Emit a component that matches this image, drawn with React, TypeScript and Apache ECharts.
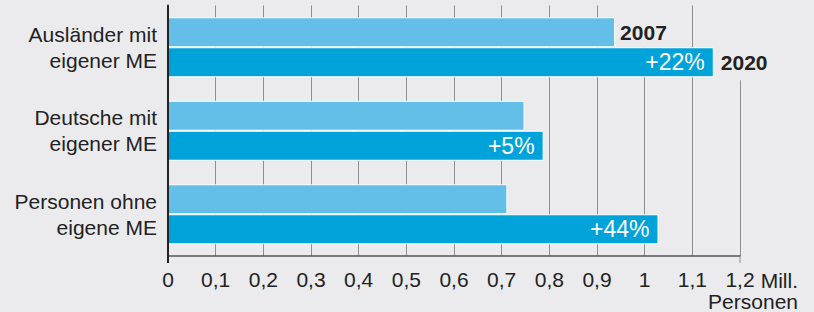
import React, { useEffect, useRef } from "react";
import * as echarts from "echarts";

const categories = ["Ausländer mit\neigener ME", "Deutsche mit\neigener ME", "Personen ohne\neigene ME"];
const seriesNames = ["2007", "2020"];
const values2007 = [0.938, 0.748, 0.712];
const values2020 = [1.145, 0.788, 1.029];
const changeLabels = ["+22%", "+5%", "+44%"];
const xMin = 0;
const xMax = 1.2;
const xInterval = 0.1;
const unitLine1 = "Mill.";
const unitLine2 = "Personen";

const BG = "#ebebee";
const C2007 = "#63bee8";
const C2020 = "#00a3d9";
const TEXT = "#222222";
const GRID = "#8e8e8e";
const FONT = "'Liberation Sans', Arial, Helvetica, sans-serif";
const BAR_W = 30;
const FS = 21;

export default function App() {
  const ref = useRef<HTMLDivElement>(null);
  useEffect(() => {
    if (!ref.current) return;
    const chart = echarts.init(ref.current, null, { renderer: "svg" });
    const option: any = {
      animation: false,
      backgroundColor: BG,
      textStyle: { fontFamily: FONT },
      grid: { left: 168, right: 74, top: 5.5, bottom: 56, containLabel: false },
      xAxis: {
        type: "value",
        min: xMin,
        max: xMax,
        interval: xInterval,
        axisLine: { show: true, lineStyle: { color: "#555", width: 1.5 } },
        axisTick: { show: false },
        splitLine: { show: true, lineStyle: { color: GRID, width: 1 } },
        axisLabel: {
          color: TEXT,
          fontSize: FS,
          fontFamily: FONT,
          margin: 13,
          formatter: (v: number) => String(Math.round(v * 10) / 10).replace(".", ","),
        },
      },
      yAxis: {
        type: "category",
        inverse: true,
        data: categories,
        z: 3,
        axisLine: { show: true, lineStyle: { color: TEXT, width: 2 } },
        axisTick: { show: false },
        splitLine: { show: false },
        axisLabel: {
          color: TEXT,
          fontSize: FS,
          fontFamily: FONT,
          lineHeight: 26,
          margin: 11,
          align: "right",
        },
      },
      series: [
        {
          name: seriesNames[0],
          type: "bar",
          barWidth: BAR_W,
          barGap: "0%",
          z: 2,
          itemStyle: { color: C2007, borderColor: "#ffffff", borderWidth: 1 },
          data: values2007.map((v, i) =>
            i === 0
              ? {
                  value: v,
                  label: {
                    show: true,
                    position: "right",
                    distance: 5,
                    formatter: seriesNames[0],
                    color: TEXT,
                    fontSize: FS,
                    fontWeight: "bold",
                    fontFamily: FONT,
                  },
                }
              : v
          ),
        },
        {
          name: seriesNames[1],
          type: "bar",
          barWidth: BAR_W,
          barGap: "0%",
          z: 2,
          itemStyle: { color: C2020, borderColor: "#ffffff", borderWidth: 1 },
          label: {
            show: true,
            position: "insideRight",
            distance: 9,
            color: "#ffffff",
            fontSize: 23,
            fontFamily: FONT,
            formatter: (p: any) => changeLabels[p.dataIndex],
          },
          data: values2020,
        },
      ],
    };
    chart.setOption(option);

    const px = (x: number, c: number) =>
      chart.convertToPixel({ xAxisIndex: 0, yAxisIndex: 0 }, [x, c]) as number[];
    const c0 = px(0, 0);
    const c1 = px(0, 1);
    const band = c1[1] - c0[1];
    const gridTop = c0[1] - band / 2;
    const barBottom0 = c0[1] + BAR_W;
    const axisY = px(0, categories.length - 1)[1] + band / 2;
    const x10 = px(1.0, 0)[0];
    const x12 = px(xMax, 0)[0];
    const x0 = px(xMin, 0)[0];
    const end2020 = px(values2020[0], 0)[0];

    chart.setOption({
      graphic: [
        { type: "rect", z: 1, shape: { x: x10 - 3, y: gridTop - 1, width: 6, height: c0[1] - gridTop + 1 }, style: { fill: BG } },
        { type: "rect", z: 1, shape: { x: x12 - 3, y: gridTop - 1, width: 6, height: barBottom0 + 3 - gridTop + 1 }, style: { fill: BG } },
        { type: "line", z: 4, shape: { x1: x0, y1: axisY, x2: x0, y2: axisY + 7 }, style: { stroke: TEXT, lineWidth: 2 } },
        { type: "line", z: 4, shape: { x1: x12, y1: axisY, x2: x12, y2: axisY + 7 }, style: { stroke: GRID, lineWidth: 1 } },
        {
          type: "text",
          z: 5,
          x: end2020 + 7,
          y: c0[1] + BAR_W / 2,
          style: { text: seriesNames[1], fill: TEXT, font: `bold ${FS}px ${FONT}`, textAlign: "left", textVerticalAlign: "middle" },
        },
        {
          type: "text",
          z: 5,
          x: x12 + 58,
          y: axisY + 24,
          style: { text: unitLine1, fill: TEXT, font: `${FS}px ${FONT}`, textAlign: "right", textVerticalAlign: "middle" },
        },
        {
          type: "text",
          z: 5,
          x: x12 + 58,
          y: axisY + 45,
          style: { text: unitLine2, fill: TEXT, font: `${FS}px ${FONT}`, textAlign: "right", textVerticalAlign: "middle" },
        },
      ],
    });

    return () => chart.dispose();
  }, []);
  return <div ref={ref} style={{ position: "fixed", left: 0, top: 0, width: 814, height: 312 }} />;
}
